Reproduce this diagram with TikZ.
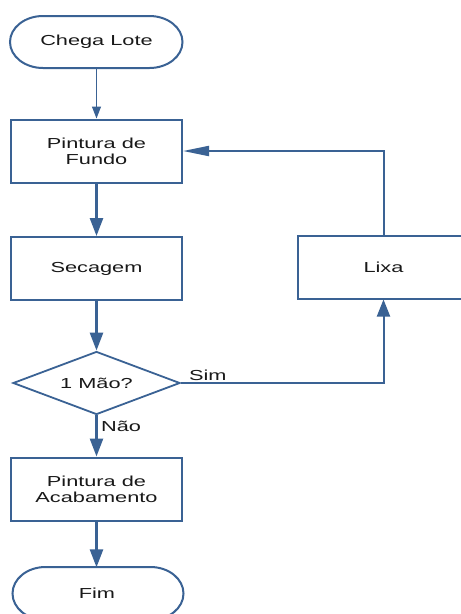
\documentclass[tikz,border=0pt]{standalone}
\usepackage{fontspec}
\setmainfont{Liberation Sans}[FakeStretch=1.5]
\usetikzlibrary{arrows.meta,shapes.geometric}
\definecolor{edge}{RGB}{58,98,148}
\definecolor{ink}{RGB}{25,25,25}
\tikzset{
  txt/.style={font=\fontsize{14.5}{16}\selectfont, text=ink, align=center, inner sep=0pt},
  box/.style={txt, draw=edge, line width=2pt, minimum width=171pt, minimum height=63pt},
  term/.style={txt, minimum width=172pt, minimum height=52pt},
  termline/.style={draw=edge, line width=2pt},
  decision/.style={txt, diamond, draw=edge, line width=1.8pt, minimum width=167pt, minimum height=63pt, aspect=2.65},
  conn/.style={draw=edge, line width=2.6pt, -{Triangle[length=18pt,width=13pt]}},
  thinconn/.style={draw=edge, line width=1pt, -{Triangle[length=12pt,width=9pt]}},
  looparrow/.style={draw=edge, line width=2pt, -{Triangle[length=26pt,width=10pt]}},
  uparrow/.style={draw=edge, line width=2pt, -{Triangle[length=17pt,width=13pt]}},
  lbl/.style={font=\fontsize{14.5}{16}\selectfont, text=ink, inner sep=0pt}
}
\begin{document}
\begin{tikzpicture}[x=1pt,y=1pt]
\useasboundingbox (0,0) rectangle (461,-614);
\clip (0,0) rectangle (461,-614);
\fill[white] (0,0) rectangle (461,-614);

% Chega Lote terminal
\draw[termline] (43,-16) -- (149.5,-16) arc[start angle=90,end angle=-90,x radius=33,y radius=26] -- (43,-68) arc[start angle=270,end angle=90,x radius=33,y radius=26] -- cycle;
\node[term] (start) at (96.5,-42) {Chega Lote};

\node[box] (pf) at (96.5,-151) {Pintura de\\Fundo};
\node[box] (sec) at (96.5,-268.5) {Secagem};
\node[decision] (dec) at (96.5,-383) {1 Mão?};
\node[box] (pa) at (96.5,-489) {Pintura de\\Acabamento};
\node[box] (lixa) at (383.5,-267) {Lixa};

% Fim terminal
\draw[termline] (45.5,-567) -- (150.5,-567) arc[start angle=90,end angle=-90,x radius=33,y radius=26.5] -- (45.5,-620) arc[start angle=270,end angle=90,x radius=33,y radius=26.5] -- cycle;
\node[term] (fim) at (97,-593.5) {Fim};

% connectors
\draw[thinconn] (start.south) -- (pf.north);
\draw[conn] (pf.south) -- (sec.north);
\draw[conn] (sec.south) -- (dec.north);
\draw[conn] (dec.south) -- (pa.north);
\draw[conn] (pa.south) -- ([xshift=-0.5pt]fim.north);
\draw[uparrow] (dec.east) -| (lixa.south);
\draw[looparrow] (lixa.north) |- (pf.east);

\node[lbl, anchor=base west] (sim) at ([xshift=8pt,yshift=3pt]dec.east) {Sim};
\node[lbl, anchor=base west] (nao) at ([xshift=4.5pt,yshift=-16pt]dec.south) {Não};
\end{tikzpicture}
\end{document}
